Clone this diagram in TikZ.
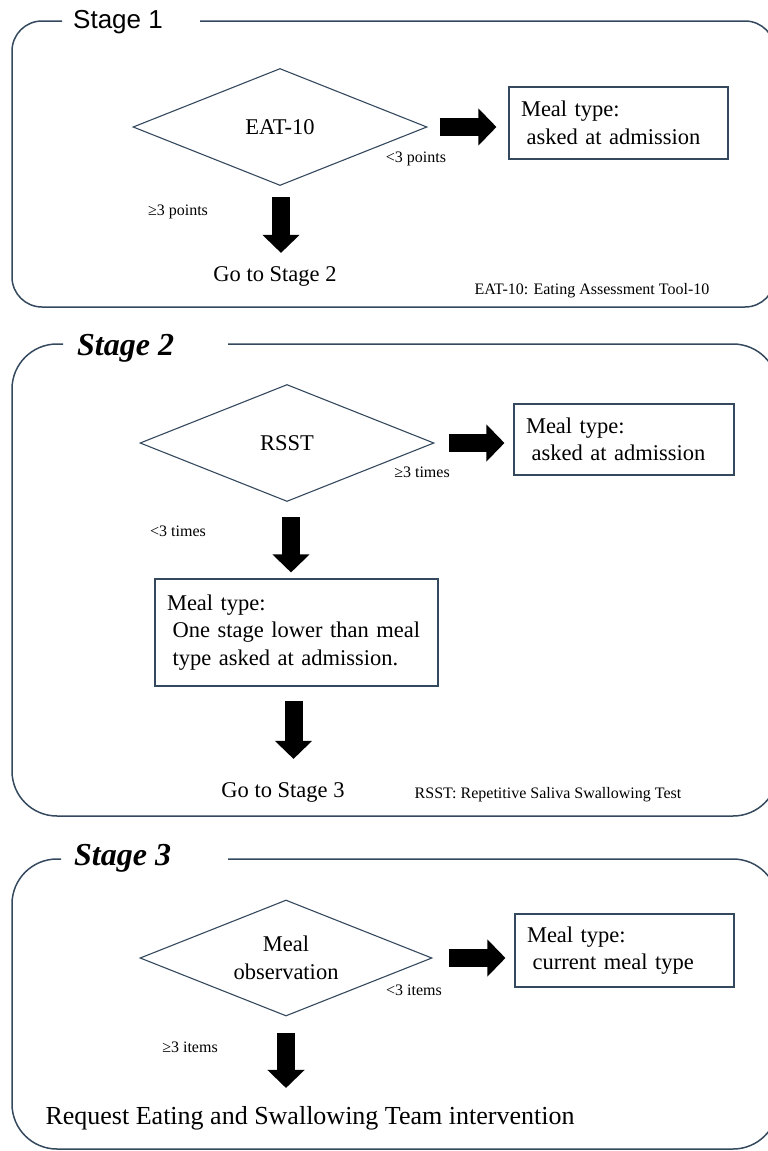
\documentclass[tikz,border=0pt]{standalone}
\usepackage{fontspec}
\setmainfont{Liberation Serif}
\newfontfamily\sansf{Liberation Sans}
\usetikzlibrary{shapes.geometric,arrows.meta,calc}
\definecolor{framec}{HTML}{34495E}
\tikzset{
  framebox/.style={draw=framec, line width=1.5pt},
  decision/.style={diamond, draw=framec, line width=1.1pt, inner sep=0pt, aspect=2.5,
     font=\fontsize{22.5}{28}\selectfont, align=center},
  mealbox/.style={rectangle, draw=framec, line width=1.1pt, inner xsep=12pt, inner ysep=0pt,
     align=left, font=\fontsize{22.5}{27.5}\selectfont},
  maintext/.style={inner sep=0pt, font=\fontsize{22.5}{27.5}\selectfont},
  small/.style={inner sep=0pt, font=\fontsize{16}{19}\selectfont},
  barrow/.style={line width=18pt, -{Triangle[length=18pt,width=36pt]}},
  titleA/.style={inner sep=0pt, anchor=base west, font=\sansf\fontsize{26}{30}\selectfont},
  titleB/.style={inner sep=0pt, anchor=base west, font=\bfseries\itshape\fontsize{32}{36}\selectfont}
}
\begin{document}
\begin{tikzpicture}[x=1pt,y=-1pt]
\useasboundingbox (0,0) rectangle (768,1151);
\begin{scope}
\clip (0,0) rectangle (768,1151);
\draw[framebox, rounded corners=30pt] (200,21) -- (775,21) -- (775,307) -- (12,307) -- (12,21) -- (62,21);
\draw[framebox, rounded corners=45pt] (228,344) -- (778,344) -- (778,816) -- (12,816) -- (12,344) -- (63,344);
\draw[framebox, rounded corners=45pt] (228,859) -- (778,859) -- (778,1149) -- (12,1149) -- (12,859) -- (61,859);
\end{scope}

% titles
\node[titleA] (t1) at (73,28) {Stage 1};
\node[titleB] (t2) at (77,355) {Stage 2};
\node[titleB] (t3) at (74,865) {Stage 3};

% Stage 1
\node[decision, minimum width=294pt, minimum height=117pt] (d1) at (280,127) {EAT-10};
\node[mealbox, minimum width=219pt, minimum height=72pt, text width=195pt] (b1) at (618.5,123)
  {Meal type:\\\hspace*{0.25em}asked at admission};
\node[small] (l1) at (416,159) {<3 points};
\node[small] (l2) at (178,212) {≥3 points};
\node[maintext] (g1) at (275,276) {Go to Stage 2};
\node[small] (n1) at (592,291) {EAT-10: Eating Assessment Tool-10};
\draw[barrow] ($(d1.east)+(12,0)$) -- ($(d1.east -| b1.west)+(-12,0)$);
\draw[barrow] ($(d1.south)+(1,11)$) -- ($(d1.south |- g1.north)+(1,-13)$);

% Stage 2
\node[decision, minimum width=294pt, minimum height=117pt] (d2) at (287,443) {RSST};
\node[mealbox, minimum width=220pt, minimum height=71pt, text width=196pt] (b2) at (624,439.5)
  {Meal type:\\\hspace*{0.25em}asked at admission};
\node[small] (l3) at (422,472) {≥3 times};
\node[small] (l4) at (178,531) {<3 times};
\node[mealbox, minimum width=283pt, minimum height=107pt, text width=259pt] (b3) at (296.5,632.5)
  {Meal type:\\\hspace*{0.25em}One stage lower than meal\\\hspace*{0.25em}type asked at admission.};
\node[maintext] (g2) at (283,792) {Go to Stage 3};
\node[small] (n2) at (548,795) {RSST: Repetitive Saliva Swallowing Test};
\draw[barrow] ($(d2.east)+(14,0)$) -- ($(d2.east -| b2.west)+(-9,0)$);
\draw[barrow] ($(d2.south)+(4,15)$) -- ($(d2.south |- b3.north)+(4,-6)$);
\draw[barrow] ($(b3.south)+(-3,14)$) -- ($(b3.south |- g2.north)+(-3,-23)$);

% Stage 3
\node[decision, minimum width=292pt, minimum height=116pt] (d3) at (286,958) {Meal\\observation};
\node[mealbox, minimum width=219pt, minimum height=73pt, text width=195pt] (b4) at (624.5,950.5)
  {Meal type:\\\hspace*{0.25em}current meal type};
\node[small] (l5) at (414,990) {<3 items};
\node[small] (l6) at (190,1047) {≥3 items};
\node[inner sep=0pt, font=\fontsize{26}{30}\selectfont] (g3) at (310,1118) {Request Eating and Swallowing Team intervention};
\draw[barrow] ($(d3.east)+(16,0)$) -- ($(d3.east -| b4.west)+(-9,0)$);
\draw[barrow] ($(d3.south)+(0,16)$) -- ($(d3.south |- g3.north)+(0,-18)$);
\end{tikzpicture}
\end{document}
